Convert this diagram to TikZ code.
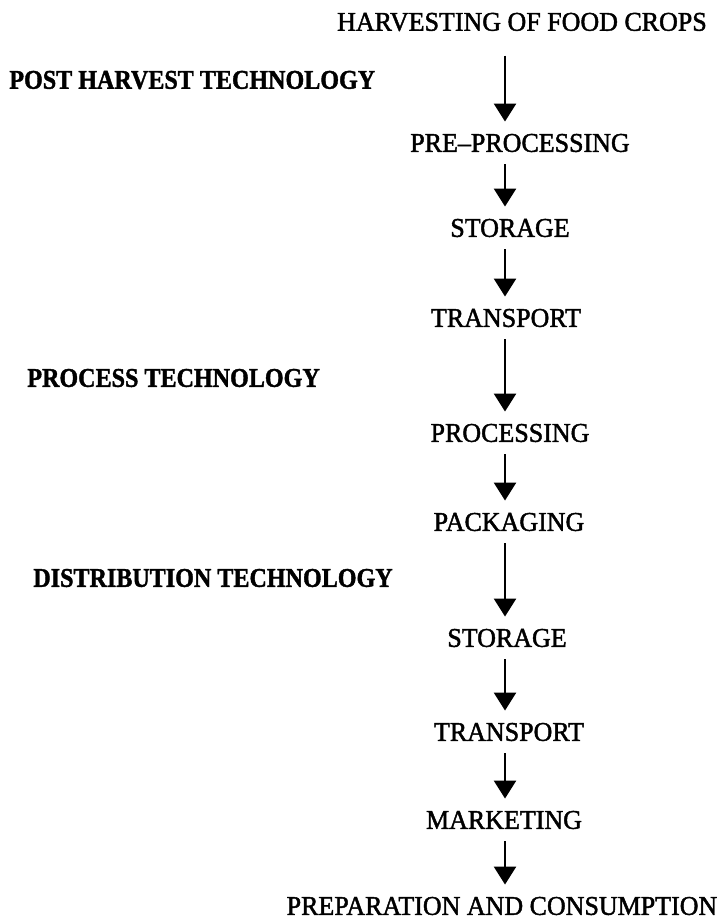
\documentclass[tikz,border=0pt]{standalone}
\usepackage{fontspec}
\setmainfont{Liberation Serif}
\newfontfamily\flowfont{Liberation Serif}[Ligatures=TeX, FakeStretch=0.96, FakeBold=1.6]
\newfontfamily\sidefont{Liberation Serif Bold}[Ligatures=TeX, FakeStretch=0.89, FakeBold=1.4]
\usetikzlibrary{arrows.meta}

\begin{document}
\begin{tikzpicture}[
  stage/.style={inner sep=0pt, font=\flowfont\fontsize{15.4}{18}\selectfont},
  phase/.style={inner sep=0pt, anchor=west, font=\sidefont\fontsize{15.4}{18}\selectfont},
  arr/.style={-{Triangle[length=0.36cm, width=0.44cm]}, line width=1.5pt,
              shorten <=0.24cm, shorten >=0.24cm}
]
\useasboundingbox (0,0) rectangle (14.52,-18.48);
\coordinate (spine) at (10.10,0);

% flow of stages
\node[stage] (harvest) at (10.44,-0.44) {HARVESTING OF FOOD CROPS};
\node[stage] (preproc) at (10.40,-2.86) {PRE--PROCESSING};
\node[stage] (store1) at (10.20,-4.56) {STORAGE};
\node[stage] (trans1) at (10.12,-6.36) {TRANSPORT};
\node[stage] (proc) at (10.20,-8.66) {PROCESSING};
\node[stage] (pack) at (10.18,-10.44) {PACKAGING};
\node[stage] (store2) at (10.14,-12.76) {STORAGE};
\node[stage] (trans2) at (10.18,-14.64) {TRANSPORT};
\node[stage] (market) at (10.08,-16.40) {MARKETING};
\node[stage] (consume) at (10.04,-18.12) {PREPARATION AND CONSUMPTION};

% technology headings
\node[phase] (posttech) at (0.18,-1.60) {POST HARVEST TECHNOLOGY};
\node[phase] (proctech) at (0.54,-7.56) {PROCESS TECHNOLOGY};
\node[phase] (disttech) at (0.66,-11.56) {DISTRIBUTION TECHNOLOGY};

\draw[arr, shorten <=0.48cm] (harvest.south -| spine) -- (preproc.north -| spine);
\draw[arr] (preproc.south -| spine) -- (store1.north -| spine);
\draw[arr] (store1.south -| spine) -- (trans1.north -| spine);
\draw[arr] (trans1.south -| spine) -- (proc.north -| spine);
\draw[arr] (proc.south -| spine) -- (pack.north -| spine);
\draw[arr] (pack.south -| spine) -- (store2.north -| spine);
\draw[arr] (store2.south -| spine) -- (trans2.north -| spine);
\draw[arr] (trans2.south -| spine) -- (market.north -| spine);
\draw[arr] (market.south -| spine) -- (consume.north -| spine);
\end{tikzpicture}
\end{document}
